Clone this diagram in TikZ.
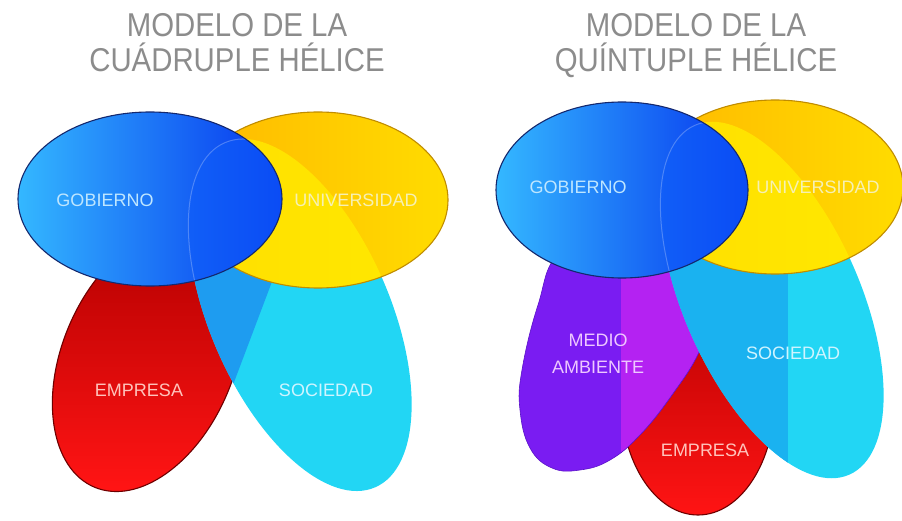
\documentclass[tikz,border=0pt]{standalone}
\usepackage{fontspec}
\setmainfont{Liberation Sans}
\usepackage{tikz}

\definecolor{titlegray}{HTML}{8C8C8C}
\definecolor{gobA}{HTML}{34B8FF}
\definecolor{gobB}{HTML}{0E5CFA}
\definecolor{gobC}{HTML}{0634EE}
\definecolor{gobRim}{HTML}{14286E}
\definecolor{uniA}{HTML}{FFB800}
\definecolor{uniB}{HTML}{FFDC00}
\definecolor{uniRim}{HTML}{C08C00}
\definecolor{uniLight}{HTML}{FFF000}
\definecolor{empA}{HTML}{B40000}
\definecolor{empB}{HTML}{FF1414}
\definecolor{empRim}{HTML}{6E0000}
\definecolor{socA}{HTML}{22D6F4}
\definecolor{socB}{HTML}{1E9CF0}
\definecolor{socC}{HTML}{1AB2F0}
\definecolor{medA}{HTML}{7A1CF2}
\definecolor{medB}{HTML}{B422F2}
\definecolor{medRim}{HTML}{5A12C8}
\definecolor{gobTxt}{HTML}{BEE6FF}
\definecolor{uniTxt}{HTML}{F6F0B4}
\definecolor{empTxt}{HTML}{FFC4BC}
\definecolor{socTxt}{HTML}{CFF4FF}
\definecolor{medTxt}{HTML}{EEC8FF}

% outline of medio ambiente
\def\medPath{plot[smooth cycle, tension=0.7] coordinates {(620,295) (560,268) (538,215) (522,150) (520,110) (530,72) (552,52) (580,50) (610,60) (640,85) (672,125) (700,170) (715,220) (712,265) (680,292)}}

\begin{document}
\begin{tikzpicture}[x=1pt, y=1pt,
		ttl/.style={font=\fontsize{33}{33}\selectfont, text=titlegray, xscale=0.89, anchor=base},
		lbl/.style={font=\fontsize{18}{27}\selectfont, align=center},
		rim/.style={line width=1.1pt},
		rotEmpL/.style={rotate around={67.2:(148,160)}},
		rotSocL/.style={rotate around={-66.4:(300,205)}},
		rotSocR/.style={rotate around={-66.1:(772,220)}}]
		\useasboundingbox (0,0) rectangle (902,520);
		\clip (0,0) rectangle (902,520);
		
		% ---------- cuadruple helice ----------
		% draw empresa
		\shadedraw[top color=empA, bottom color=empB, draw=empRim, rim, rotEmpL] (148,160) ellipse [x radius=138pt, y radius=86pt];
		
		% draw sociedad
		\fill[socA, rotSocL] (300,205) ellipse [x radius=188pt, y radius=90pt];
		\begin{scope}
			\clip[rotSocL] (300,205) ellipse [x radius=188pt, y radius=90pt];
			\fill[socB] (0,0) -- (182,0) -- (333,400) -- (0,400) -- cycle;
		\end{scope}
		
		% draw universidad
		\shade[left color=uniA, right color=uniB] (318,320) ellipse [x radius=130pt, y radius=88pt];
		\begin{scope}
			\clip (318,320) ellipse [x radius=130pt, y radius=88pt];
			\fill[uniLight, opacity=0.7, rotSocL] (300,205) ellipse [x radius=188pt, y radius=90pt];
		\end{scope}
		\draw[uniRim, rim] (318,320) ellipse [x radius=130pt, y radius=88pt];
		
		% draw gobierno
		\shade[left color=gobA, middle color=gobB, right color=gobC] (150,321) ellipse [x radius=132pt, y radius=87pt];
		\begin{scope}
			\clip (150,321) ellipse [x radius=132pt, y radius=87pt];
			\fill[gobB, opacity=0.6, rotSocL] (300,205) ellipse [x radius=188pt, y radius=90pt];
			\draw[white, opacity=0.25, line width=1pt, rotSocL] (300,205) ellipse [x radius=188pt, y radius=90pt];
		\end{scope}
		\draw[gobRim, rim] (150,321) ellipse [x radius=132pt, y radius=87pt];
		
		% ---------- quintuple helice ----------
		% draw empresa
		\shadedraw[top color=empA, bottom color=empB, draw=empRim, rim] (698,123) ellipse [x radius=77pt, y radius=118pt];
		
		% draw medio ambiente
		\fill[medA] \medPath;
		\begin{scope}
			\clip \medPath;
			\fill[medB] (621,0) rectangle (740,520);
		\end{scope}
		\draw[medRim, line width=0.6pt] \medPath;
		
		% draw sociedad
		\fill[socA, rotSocR] (772,220) ellipse [x radius=191pt, y radius=88pt];
		\begin{scope}
			\clip[rotSocR] (772,220) ellipse [x radius=191pt, y radius=88pt];
			\fill[socC] (600,0) rectangle (788,520);
		\end{scope}
		
		% draw universidad
		\shade[left color=uniA, right color=uniB] (775,333) ellipse [x radius=128pt, y radius=87pt];
		\begin{scope}
			\clip (775,333) ellipse [x radius=128pt, y radius=87pt];
			\fill[uniLight, opacity=0.7, rotSocR] (772,220) ellipse [x radius=191pt, y radius=88pt];
		\end{scope}
		\draw[uniRim, rim] (775,333) ellipse [x radius=128pt, y radius=87pt];
		
		% draw gobierno
		\shade[left color=gobA, middle color=gobB, right color=gobC] (622,330) ellipse [x radius=126pt, y radius=88pt];
		\begin{scope}
			\clip (622,330) ellipse [x radius=126pt, y radius=88pt];
			\fill[gobB, opacity=0.6, rotSocR] (772,220) ellipse [x radius=191pt, y radius=88pt];
			\draw[white, opacity=0.25, line width=1pt, rotSocR] (772,220) ellipse [x radius=191pt, y radius=88pt];
		\end{scope}
		\draw[gobRim, rim] (622,330) ellipse [x radius=126pt, y radius=88pt];
		
		% draw titles
		\node[ttl] (titL1) at (237,483) {MODELO DE LA};
		\node[ttl] (titL2) at (237,448) {CUÁDRUPLE HÉLICE};
		\node[ttl] (titR1) at (696,483) {MODELO DE LA};
		\node[ttl] (titR2) at (696,448) {QUÍNTUPLE HÉLICE};
		
		% draw labels
		\node[lbl, text=gobTxt] (gobL) at (105,320) {GOBIERNO};
		\node[lbl, text=uniTxt] (uniL) at (356,320) {UNIVERSIDAD};
		\node[lbl, text=empTxt] (empL) at (139,130) {EMPRESA};
		\node[lbl, text=socTxt] (socL) at (326,130) {SOCIEDAD};
		\node[lbl, text=gobTxt] (gobR) at (578,333) {GOBIERNO};
		\node[lbl, text=uniTxt] (uniR) at (818,333) {UNIVERSIDAD};
		\node[lbl, text=medTxt] (medR) at (598,166) {MEDIO\\AMBIENTE};
		\node[lbl, text=socTxt] (socR) at (793,167) {SOCIEDAD};
		\node[lbl, text=empTxt] (empR) at (705,70) {EMPRESA};
		
\end{tikzpicture}
\end{document}
